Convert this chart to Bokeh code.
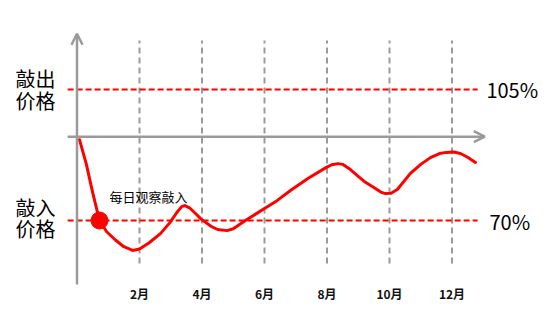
from bokeh.plotting import figure
from bokeh.models import Range1d, Arrow, OpenHead
from bokeh.core.properties import value
from bokeh.embed import file_html
from bokeh.resources import INLINE

# ---- data ----
tick_months = [2, 4, 6, 8, 10, 12]
tick_labels = ["2月", "4月", "6月", "8月", "10月", "12月"]
knock_out = 105
knock_in = 70
axis_level = 92.4
curve_month = [0.08, 0.3, 0.5, 0.72, 0.95, 1.23, 1.5, 1.78, 2.0, 2.3, 2.67, 2.98, 3.2, 3.35,
               3.45, 3.6, 3.8, 3.98, 4.3, 4.5, 4.8, 5.0, 5.39, 6.0, 6.4, 6.83, 7.4, 7.98, 8.15,
               8.35, 8.5, 8.75, 9.0, 9.23, 9.5, 9.72, 9.87, 10.05, 10.25, 10.67, 11.0, 11.31,
               11.6, 11.82, 12.05, 12.27, 12.5, 12.75]
curve_pct = [91.6, 85.0, 77.5, 70.0, 67.0, 64.8, 63.0, 62.0, 62.4, 64.0, 66.5, 69.5, 72.2, 73.7,
             74.0, 73.4, 71.8, 70.3, 68.4, 67.6, 67.3, 67.8, 70.0, 73.2, 75.3, 78.0, 81.3, 84.2,
             84.9, 85.2, 85.0, 83.6, 81.8, 80.2, 78.8, 77.6, 77.2, 77.3, 78.3, 82.6, 85.0, 86.8,
             87.9, 88.2, 88.3, 87.9, 86.9, 85.5]
dot_month = [0.72]
dot_pct = [70]
left_labels = [("敲出", 108.0), ("价格", 102.1), ("敲入", 73.6), ("价格", 67.9)]
right_labels = ["105%", "70%"]
note_text = "每日观察敲入"

RED = "#ff0000"
GRAY = "#9a9a9a"
FONT = value("Noto Sans CJK SC")

p = figure(width=550, height=318, output_backend="svg", toolbar_location=None,
           x_range=Range1d(-2.448, 15.152), y_range=Range1d(43.82, 128.78),
           min_border=0, min_border_left=0, min_border_right=0,
           min_border_top=0, min_border_bottom=0)
p.axis.visible = False
p.grid.visible = False
p.outline_line_color = None
p.background_fill_color = "white"
p.border_fill_color = "white"

# vertical dashed month lines
p.segment(x0=tick_months, y0=[58.5] * 6, x1=tick_months, y1=[118.1] * 6,
          line_color=GRAY, line_width=2, line_dash="6 4")

# axes with arrows
p.add_layout(Arrow(end=OpenHead(size=11, line_color=GRAY, line_width=2.5),
                   x_start=0, y_start=52.9, x_end=0, y_end=119.9,
                   line_color=GRAY, line_width=2.5))
p.add_layout(Arrow(end=OpenHead(size=11, line_color=GRAY, line_width=2.5),
                   x_start=-0.3, y_start=axis_level, x_end=13.05, y_end=axis_level,
                   line_color=GRAY, line_width=2.5))

# barrier lines
for lvl in (knock_out, knock_in):
    p.line([-0.3, 12.82], [lvl, lvl], line_color=RED, line_width=2, line_dash="6 3")

# price curve
p.line(curve_month, curve_pct, line_color=RED, line_width=3, line_join="round", line_cap="round")
p.scatter(dot_month, dot_pct, size=17, fill_color=RED, line_color=RED)

# month labels
p.text(x=tick_months, y=[43.82 + 25 / 3.743] * 6, text=tick_labels, text_font=FONT,
       text_font_size="12px", text_font_style="bold", text_align="center",
       text_baseline="middle", text_color="#111111")

# left labels
p.text(x=[-1.33] * 4, y=[v for _, v in left_labels], text=[t for t, _ in left_labels],
       text_font=FONT, text_font_size="20px", text_align="center",
       text_baseline="middle", text_color="#000000")

# right labels
p.text(x=[13.1, 13.2], y=[knock_out, knock_in - 0.2], text=right_labels, text_font=FONT,
       text_font_size="20px", text_align="left", text_baseline="middle", text_color="#000000")

# note
p.text(x=[1.04], y=[76.4], text=[note_text], text_font=FONT, text_font_size="13px",
       text_align="left", text_baseline="middle", text_color="#000000")

open("out.html", "w").write(file_html(p, INLINE))
